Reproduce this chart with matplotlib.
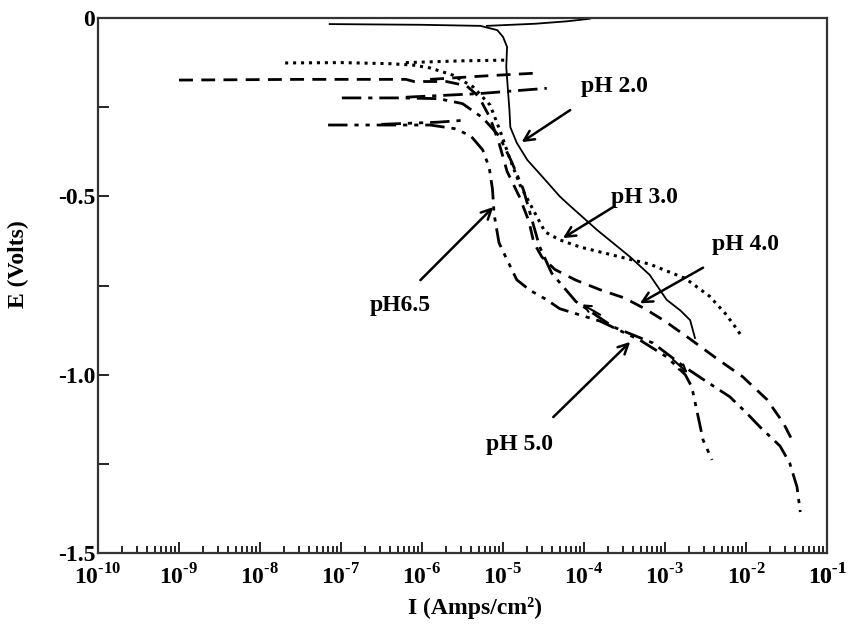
import numpy as np
import matplotlib
matplotlib.use("Agg")
import matplotlib.pyplot as plt
from matplotlib.ticker import FixedLocator, LogLocator, NullFormatter, FixedFormatter

plt.rcParams["font.family"] = ["Liberation Serif", "DejaVu Serif"]
plt.rcParams["font.weight"] = "bold"
plt.rcParams["mathtext.fontset"] = "custom"
plt.rcParams["mathtext.rm"] = "Liberation Serif:bold"
plt.rcParams["mathtext.bf"] = "Liberation Serif:bold"

# log10 of current density (A/cm2) and potential (V)
ph2_cath_logi = [-7.14, -6.0, -5.28, -5.07, -5.0, -4.95, -4.96, -4.94, -4.92, -4.91,
                 -4.83, -4.70, -4.51, -4.30, -4.21, -3.84, -3.43, -3.19, -2.98, -2.81, -2.69, -2.63]
ph2_cath_e = [-0.017, -0.019, -0.022, -0.034, -0.053, -0.081, -0.137, -0.20, -0.26, -0.306,
              -0.35, -0.398, -0.446, -0.50, -0.519, -0.594, -0.67, -0.72, -0.79, -0.82, -0.847, -0.897]
ph2_an_logi = [-5.2, -4.6, -4.2, -3.93]
ph2_an_e = [-0.022, -0.016, -0.009, -0.002]

ph3_cath_logi = [-7.69, -7.0, -6.4, -6.11, -5.9, -5.62, -5.37, -5.16, -5.04, -4.91, -4.79,
                 -4.58, -4.48, -4.3, -4.05, -3.64, -3.19, -2.75, -2.45, -2.25, -2.12, -2.04]
ph3_cath_e = [-0.126, -0.125, -0.128, -0.132, -0.14, -0.16, -0.193, -0.244, -0.314, -0.398, -0.468,
              -0.558, -0.60, -0.622, -0.642, -0.665, -0.69, -0.73, -0.78, -0.83, -0.87, -0.897]
ph3_an_logi = [-6.2, -5.5, -4.95]
ph3_an_e = [-0.125, -0.12, -0.118]

ph4_cath_logi = [-9.0, -7.5, -6.2, -6.1, -5.7, -5.45, -5.3, -5.16, -5.05, -4.95, -4.8, -4.68,
                 -4.62, -4.52, -4.36, -4.1, -3.8, -3.5, -3.25, -3.0, -2.69, -2.36, -2.04, -1.74,
                 -1.54, -1.40]
ph4_cath_e = [-0.174, -0.172, -0.172, -0.178, -0.178, -0.19, -0.22, -0.28, -0.35, -0.43, -0.50, -0.57,
              -0.63, -0.67, -0.705, -0.735, -0.762, -0.785, -0.815, -0.85, -0.90, -0.955, -1.006, -1.07,
              -1.135, -1.197]
ph4_an_logi = [-5.9, -5.2, -4.63]
ph4_an_e = [-0.172, -0.162, -0.155]

ph5_cath_logi = [-6.99, -6.3, -5.8, -5.5, -5.25, -5.05, -4.9, -4.75, -4.65, -4.55, -4.4, -4.1,
                 -3.64, -3.15, -2.78, -2.55, -2.2, -1.99, -1.83, -1.58, -1.46, -1.37, -1.33]
ph5_cath_e = [-0.224, -0.224, -0.226, -0.24, -0.28, -0.33, -0.40, -0.48, -0.56, -0.64, -0.715, -0.795,
              -0.866, -0.911, -0.975, -1.01, -1.062, -1.108, -1.146, -1.20, -1.248, -1.315, -1.385]
ph5_an_logi = [-6.2, -5.3, -4.46]
ph5_an_e = [-0.222, -0.212, -0.197]

ph65_cath_logi = [-7.16, -6.5, -5.9, -5.6, -5.4, -5.25, -5.17, -5.13, -5.11, -5.05, -4.95, -4.83,
                  -4.67, -4.46, -4.3, -3.8, -3.31, -2.98, -2.75, -2.67, -2.60, -2.53, -2.42]
ph65_cath_e = [-0.30, -0.30, -0.30, -0.31, -0.33, -0.37, -0.42, -0.48, -0.55, -0.63, -0.678, -0.734,
               -0.763, -0.79, -0.815, -0.85, -0.903, -0.95, -1.0, -1.034, -1.108, -1.183, -1.239]
ph65_an_logi = [-6.5, -5.8, -5.44]
ph65_an_e = [-0.298, -0.292, -0.286]

# label text, label position, arrow tail, arrow tip (log10 I, E)
labels = ["pH 2.0", "pH 3.0", "pH 4.0", "pH6.5", "pH 5.0"]
label_pos = [(-3.62, -0.193), (-3.25, -0.502), (-2.01, -0.636), (-6.27, -0.805), (-4.80, -1.197)]
arrow_tail = [(-4.17, -0.258), (-3.64, -0.53), (-2.53, -0.70), (-6.02, -0.735), (-4.38, -1.119)]
arrow_tip = [(-4.77, -0.348), (-4.26, -0.617), (-3.31, -0.80), (-5.12, -0.53), (-3.43, -0.908)]

# small scan-direction arrowheads on the pH 5.0 curve
scan_tail = [(-3.80, -0.832), (-2.90, -0.958)]
scan_tip = [(-4.02, -0.803), (-2.72, -0.995)]

xticks_exp = list(range(-10, 0))
yticks = [0, -0.5, -1.0, -1.5]
ytick_labels = ["0", "-0.5", "-1.0", "-1.5"]

fig = plt.figure(figsize=(8.57, 6.28), dpi=100)
ax = fig.add_axes([0.1144, 0.1194, 0.8506, 0.8519])

styles = {
    "solid": dict(linestyle="-", linewidth=1.3),
    "dot": dict(linestyle=(0, (1, 1.6)), linewidth=2.2),
    "dash": dict(linestyle=(0, (5, 3)), linewidth=2.0),
    "dashdot": dict(linestyle=(0, (7, 2.5, 1.5, 2.5)), linewidth=2.0),
    "dashdotdot": dict(linestyle=(0, (7, 2.5, 1.5, 2.5, 1.5, 2.5)), linewidth=2.0),
}

curves = [
    (ph2_cath_logi, ph2_cath_e, ph2_an_logi, ph2_an_e, "solid"),
    (ph3_cath_logi, ph3_cath_e, ph3_an_logi, ph3_an_e, "dot"),
    (ph4_cath_logi, ph4_cath_e, ph4_an_logi, ph4_an_e, "dash"),
    (ph5_cath_logi, ph5_cath_e, ph5_an_logi, ph5_an_e, "dashdot"),
    (ph65_cath_logi, ph65_cath_e, ph65_an_logi, ph65_an_e, "dashdotdot"),
]

for c_logi, c_e, a_logi, a_e, sty in curves:
    ax.plot(10 ** np.array(c_logi), c_e, color="black", **styles[sty])
    ax.plot(10 ** np.array(a_logi), a_e, color="black", **styles[sty])

for text, pos, tail, tip in zip(labels, label_pos, arrow_tail, arrow_tip):
    ax.text(10 ** pos[0], pos[1], text, fontsize=17, fontweight="bold",
            ha="center", va="center")
    ax.annotate("", xy=(10 ** tip[0], tip[1]), xytext=(10 ** tail[0], tail[1]),
                arrowprops=dict(arrowstyle="->", color="black", lw=1.8,
                                mutation_scale=18, shrinkA=0, shrinkB=0))

for tail, tip in zip(scan_tail, scan_tip):
    ax.annotate("", xy=(10 ** tip[0], tip[1]), xytext=(10 ** tail[0], tail[1]),
                arrowprops=dict(arrowstyle="->", color="black", lw=1.5,
                                mutation_scale=12, shrinkA=0, shrinkB=0))

ax.set_xscale("log")
ax.set_xlim(1e-10, 1e-1)
ax.set_ylim(-1.5, 0)

ax.xaxis.set_major_locator(FixedLocator([10.0 ** k for k in xticks_exp] + [1e-1]))
ax.xaxis.set_major_formatter(FixedFormatter(
    [r"$10^{\text{-}%d}$" % -k for k in xticks_exp] + [r"$10^{\text{-}1}$"]))
ax.xaxis.set_minor_locator(LogLocator(base=10, subs=np.arange(2, 10), numticks=20))
ax.xaxis.set_minor_formatter(NullFormatter())

ax.yaxis.set_major_locator(FixedLocator(yticks))
ax.yaxis.set_major_formatter(FixedFormatter(ytick_labels))
ax.yaxis.set_minor_locator(FixedLocator([-0.25, -0.75, -1.25]))

ax.tick_params(axis="both", which="both", direction="in", top=False, right=False,
               labelsize=17, width=1.2)
ax.tick_params(axis="x", which="major", length=8, pad=8)
ax.tick_params(axis="x", which="minor", length=5)
ax.tick_params(axis="y", which="both", length=8, pad=2)
for lab in ax.get_yticklabels():
    lab.set_fontweight("bold")

for sp in ax.spines.values():
    sp.set_linewidth(1.6)
    sp.set_color("#333333")

ax.set_xlabel("I (Amps/cm²)", fontsize=17, fontweight="bold")
ax.set_ylabel("E (Volts)", fontsize=17, fontweight="bold")
ax.xaxis.set_label_coords(0.517, -0.082)
ax.yaxis.set_label_coords(-0.095, 0.54)

fig.savefig("out.png", dpi=100)
